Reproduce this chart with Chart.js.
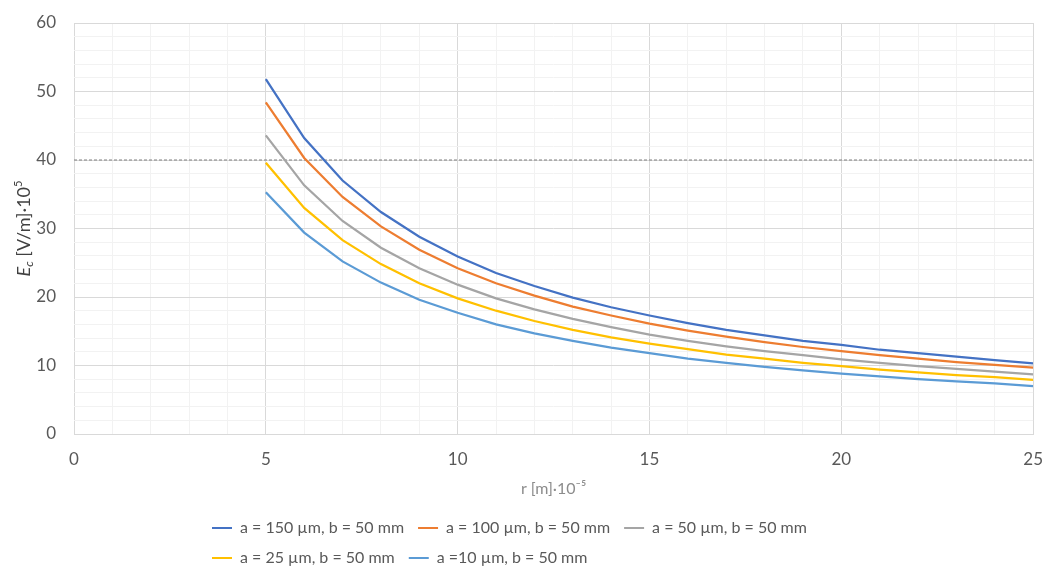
<!DOCTYPE html>
<html>
<head>
<meta charset="utf-8">
<script src="https://cdn.jsdelivr.net/npm/chart.js@4.4.1/dist/chart.umd.min.js"></script>
<style>
    html, body { margin: 0; padding: 0; background: #fff; }
    #wrap { width: 1046px; height: 567px; }
</style>
</head>
<body>
<div id="wrap"><canvas id="myChart"></canvas></div>
<script>
// r [m]·10^-5
const radii = [5, 6, 7, 8, 9, 10, 11, 12, 13, 14, 15, 16, 17, 18, 19, 20, 21, 22, 23, 24, 25];

const seriesNames = [
    'a = 150 µm, b = 50 mm',
    'a = 100 µm, b = 50 mm',
    'a = 50 µm, b = 50 mm',
    'a = 25 µm, b = 50 mm',
    'a =10 µm, b = 50 mm'
];
const seriesColors = ['#4472C4', '#ED7D31', '#A5A5A5', '#FFC000', '#5B9BD5'];

// E_c [V/m]·10^5
const eA150 = [51.8, 43.2, 37.0, 32.4, 28.8, 25.9, 23.5, 21.6, 19.9, 18.5, 17.3, 16.2, 15.2, 14.4, 13.6, 13.0, 12.3, 11.8, 11.3, 10.8, 10.3];
const eA100 = [48.4, 40.3, 34.6, 30.3, 26.9, 24.2, 22.0, 20.2, 18.6, 17.3, 16.1, 15.1, 14.2, 13.4, 12.7, 12.1, 11.5, 11.0, 10.5, 10.1, 9.7];
const eA50  = [43.6, 36.3, 31.1, 27.2, 24.2, 21.8, 19.8, 18.2, 16.8, 15.6, 14.5, 13.6, 12.8, 12.1, 11.5, 10.9, 10.4, 9.9, 9.5, 9.1, 8.7];
const eA25  = [39.6, 33.0, 28.3, 24.8, 22.0, 19.8, 18.0, 16.5, 15.2, 14.1, 13.2, 12.4, 11.6, 11.0, 10.4, 9.9, 9.4, 9.0, 8.6, 8.3, 7.9];
const eA10  = [35.3, 29.4, 25.2, 22.1, 19.6, 17.7, 16.0, 14.7, 13.6, 12.6, 11.8, 11.0, 10.4, 9.8, 9.3, 8.8, 8.4, 8.0, 7.7, 7.4, 7.0];

// dashed limit line
const limitValue = 40;
const limitRange = [0, 25];

const FONT = 'Lato';

const allSeries = [eA150, eA100, eA50, eA25, eA10];

const datasets = allSeries.map(function (vals, i) {
    return {
        label: seriesNames[i],
        data: radii.map((r, k) => ({ x: r, y: vals[k] })),
        borderColor: seriesColors[i],
        backgroundColor: seriesColors[i],
        borderWidth: 2.25,
        pointRadius: 0,
        showLine: true,
        tension: 0
    };
});
datasets.push({
    label: 'limit',
    data: limitRange.map(x => ({ x: x, y: limitValue })),
    borderColor: '#7f7f7f',
    borderWidth: 1,
    borderDash: [3, 2],
    pointRadius: 0,
    showLine: true
});

// legend block: three items per row, rows left aligned (like Excel)
const LEGEND_LEFT = 198, LEGEND_RIGHT = 870, LEGEND_HEIGHT = 61;
const legendRows = {
    id: 'legendRows',
    beforeLayout(chart) {
        const lg = chart.legend;
        if (!lg || lg._rowsPatched) return;
        const origUpdate = lg.update;
        const origDraw = lg.draw;
        lg.update = function (maxWidth, maxHeight, margins) {
            origUpdate.call(this, Math.min(maxWidth, LEGEND_RIGHT - LEGEND_LEFT), maxHeight, margins);
            this.height = LEGEND_HEIGHT;
        };
        lg.draw = function (area) {
            const l = this.left, r = this.right;
            this.left = LEGEND_LEFT;
            this.right = LEGEND_RIGHT;
            origDraw.call(this, area);
            this.left = l;
            this.right = r;
        };
        lg._rowsPatched = true;
    }
};

// y title with italic E and sub/superscripts
const yTitle = {
    id: 'yTitle',
    afterDraw(chart) {
        const ctx = chart.ctx;
        const area = chart.chartArea;
        const parts = [
            { t: 'E', f: 'italic 18px ' + FONT, dy: 0 },
            { t: 'c', f: 'italic 12px ' + FONT, dy: 5 },
            { t: ' [V/m]·10', f: '18px ' + FONT, dy: 0 },
            { t: '5', f: '11px ' + FONT, dy: -6 }
        ];
        ctx.save();
        let total = 0;
        parts.forEach(p => { ctx.font = p.f; p.w = ctx.measureText(p.t).width; total += p.w; });
        ctx.translate(24, (area.top + area.bottom) / 2);
        ctx.rotate(-Math.PI / 2);
        ctx.fillStyle = '#404040';
        ctx.textBaseline = 'middle';
        let x = -total / 2;
        parts.forEach(p => {
            ctx.font = p.f;
            ctx.fillText(p.t, x, p.dy);
            x += p.w;
        });
        ctx.restore();
    }
};

const ctx = document.getElementById('myChart').getContext('2d');
new Chart(ctx, {
    type: 'scatter',
    data: { datasets: datasets },
    plugins: [legendRows, yTitle],
    options: {
        responsive: true,
        maintainAspectRatio: false,
        animation: false,
        devicePixelRatio: 1,
        layout: { padding: { top: 23, right: 0, left: 0, bottom: 0 } },
        plugins: {
            tooltip: { enabled: false },
            legend: {
                position: 'bottom',
                align: 'start',
                labels: {
                    boxWidth: 20,
                    boxHeight: 2,
                    padding: 14,
                    color: '#595959',
                    font: { family: FONT, size: 16 },
                    filter: item => item.datasetIndex < seriesNames.length,
                    generateLabels: function (chart) {
                        return Chart.defaults.plugins.legend.labels.generateLabels(chart).map(l => {
                            l.lineWidth = 0;
                            l.fillStyle = seriesColors[l.datasetIndex] || l.fillStyle;
                            return l;
                        });
                    }
                }
            }
        },
        scales: {
            x: {
                type: 'linear',
                min: 0,
                max: 25,
                afterFit: s => { s.height = 72; },
                ticks: {
                    stepSize: 1,
                    autoSkip: false,
                    maxRotation: 0,
                    padding: 3,
                    color: '#595959',
                    font: { family: FONT, size: 17 },
                    callback: v => (v % 5 === 0 ? v : '')
                },
                grid: {
                    drawTicks: true,
                    tickLength: 12,
                    tickColor: 'rgba(0,0,0,0)',
                    color: c => (c.tick && c.tick.value % 5 === 0 ? '#d9d9d9' : '#f2f2f2')
                },
                border: { color: '#d9d9d9' },
                title: {
                    display: true,
                    text: 'r [m]·10⁻⁵',
                    color: '#8c8c8c',
                    font: { family: FONT, size: 16 },
                    padding: { top: 0, bottom: 8 }
                }
            },
            y: {
                min: 0,
                max: 60,
                afterFit: s => { s.width = 74; },
                ticks: {
                    stepSize: 2,
                    autoSkip: false,
                    padding: 3,
                    color: '#595959',
                    font: { family: FONT, size: 17 },
                    callback: v => (v % 10 === 0 ? v : '')
                },
                grid: {
                    drawTicks: true,
                    tickLength: 15,
                    tickColor: 'rgba(0,0,0,0)',
                    color: c => (c.tick && c.tick.value % 10 === 0 ? '#d9d9d9' : '#f2f2f2')
                },
                border: { display: false }
            }
        }
    }
});
</script>
</body>
</html>
